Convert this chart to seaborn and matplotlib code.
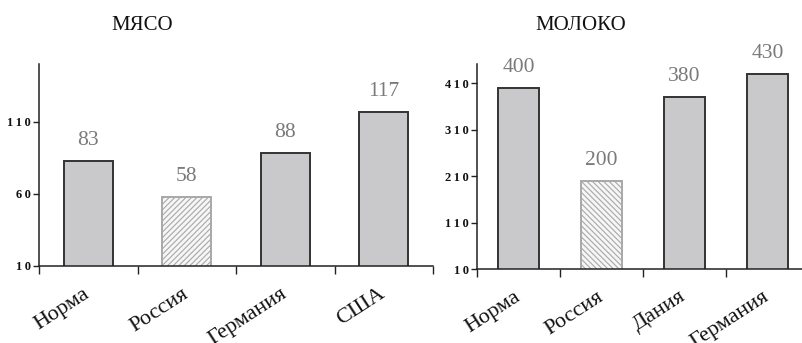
import matplotlib
matplotlib.use("Agg")
import matplotlib.pyplot as plt
import seaborn as sns
import pandas as pd

# Data
meat_categories = ["Норма", "Россия", "Германия", "США"]
meat_values = [83, 58, 88, 117]
meat_ticks = [10, 60, 110]

milk_categories = ["Норма", "Россия", "Дания", "Германия"]
milk_values = [400, 200, 380, 430]
milk_ticks = [10, 110, 210, 310, 410]

sns.set_theme(style="white")
plt.rcParams["font.family"] = ["Liberation Serif", "DejaVu Serif"]
plt.rcParams["hatch.linewidth"] = 0.8

fig = plt.figure(figsize=(8.02, 3.43), dpi=100)
ax_meat = fig.add_axes([39 / 802, 77 / 343, 394 / 802, 202 / 343])
ax_milk = fig.add_axes([477 / 802, 74 / 343, 332 / 802, 205 / 343])

FILL = "#c9c9cb"
EDGE = "#333333"


def spaced(s):
    # loose tracking for the small bold axis numbers
    return "\u2009".join(s)


def draw_panel(ax, cats, vals, ticks, ymax, title, title_x, hatch):
    df = pd.DataFrame({"cat": cats, "val": vals})
    sns.barplot(data=df, x="cat", y="val", ax=ax, width=0.5, color=FILL,
                saturation=1, errorbar=None)
    for i, bar in enumerate(ax.patches):
        bar.set_linewidth(1.4)
        if cats[i] == "Россия":
            bar.set_facecolor("#f6f6f6")
            bar.set_edgecolor("#a8a8a8")
            bar.set_hatch(hatch)
        else:
            bar.set_facecolor(FILL)
            bar.set_edgecolor(EDGE)
        ax.annotate(str(vals[i]), xy=(i, vals[i]), xytext=(0, 8),
                    textcoords="offset points", ha="center", va="bottom",
                    fontsize=15.5, color="#7a7a7a")

    ax.set_xlim(-0.5, len(cats) - 0.5)
    ax.set_ylim(10, ymax)
    ax.set_yticks(ticks)
    ax.set_yticklabels([spaced(str(t)) for t in ticks], fontsize=9,
                       fontweight="bold", color="#111111")
    ax.tick_params(axis="y", direction="out", length=4, width=1,
                   color="#222222", pad=2, left=True)

    ax.set_xticks(range(len(cats)))
    ax.set_xticklabels(cats, rotation=33, ha="right", va="center",
                       rotation_mode="anchor", fontsize=16, color="#111111")
    ax.tick_params(axis="x", which="major", length=0, pad=19)
    ax.set_xticks([i - 0.5 for i in range(len(cats) + 1)], minor=True)
    ax.tick_params(axis="x", which="minor", direction="out", length=6,
                   width=1, color="#222222", bottom=True)

    ax.set_xlabel("")
    ax.set_ylabel("")
    for side in ("top", "right"):
        ax.spines[side].set_visible(False)
    for side in ("left", "bottom"):
        ax.spines[side].set_color("#222222")
        ax.spines[side].set_linewidth(1.1)

    fig.text(title_x, 1 - 25 / 343, title, ha="center", va="center",
             fontsize=15, color="#111111")


draw_panel(ax_meat, meat_categories, meat_values, meat_ticks, 150,
           "МЯСО", 142 / 802, "//////")
draw_panel(ax_milk, milk_categories, milk_values, milk_ticks, 451,
           "МОЛОКО", 581 / 802, "\\\\\\\\\\\\")

fig.savefig("out.png", dpi=100)
